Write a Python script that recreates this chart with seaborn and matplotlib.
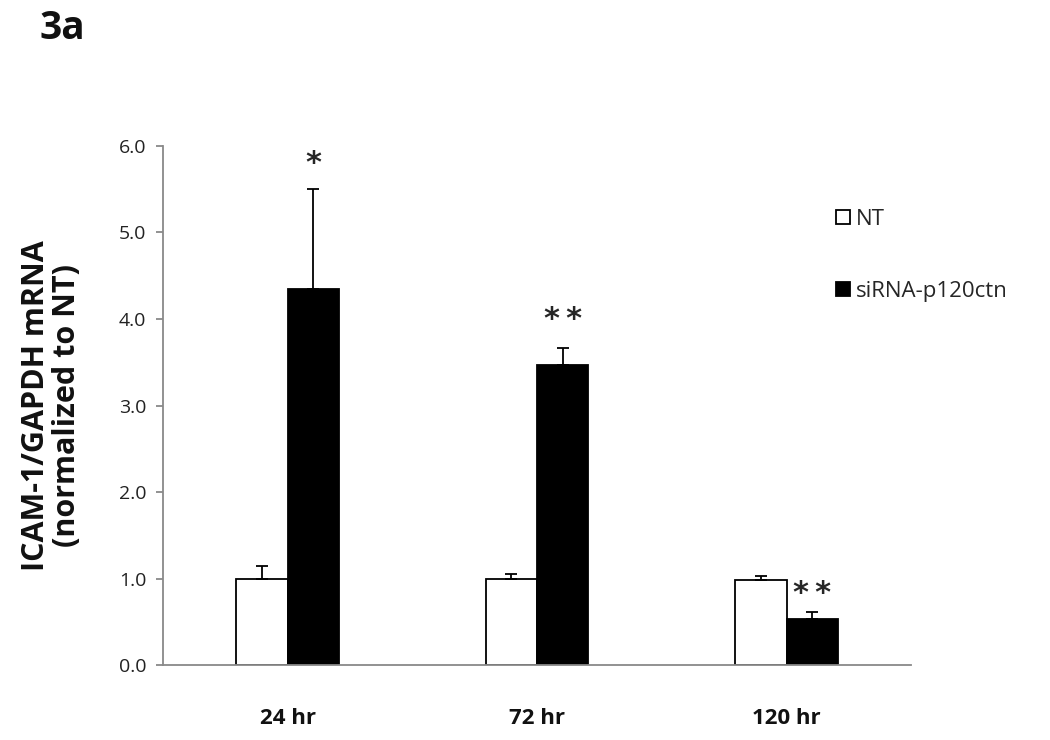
import numpy as np
import pandas as pd
import matplotlib
matplotlib.use("Agg")
import matplotlib.pyplot as plt
import seaborn as sns

sns.set_theme(style="white")
plt.rcParams["font.family"] = ["Open Sans", "DejaVu Sans"]

# ── Données ───────────────────────────────────────────────────────────────────
times     = ["24 hr", "72 hr", "120 hr"]
groups    = ["NT", "siRNA-p120ctn"]
nt_mean   = [1.00, 1.00, 0.98]
nt_err    = [0.15, 0.05, 0.05]
si_mean   = [4.35, 3.47, 0.53]
si_err    = [1.15, 0.19, 0.08]
stars     = ["*", "*\u2009*", "*\u2009*"]
star_y    = [5.80, 3.99, 0.83]

df = pd.DataFrame({
    "time":  times * 2,
    "group": [groups[0]] * 3 + [groups[1]] * 3,
    "value": nt_mean + si_mean,
})

GRAY = "#898989"

fig = plt.figure(figsize=(10.5, 7.4), dpi=100)
ax = fig.add_axes([0.155, 0.101, 0.713, 0.702])

sns.barplot(data=df, x="time", y="value", hue="group", order=times,
            hue_order=groups, palette=["white", "black"], errorbar=None,
            width=0.41, gap=0, edgecolor="black", linewidth=1.3,
            saturation=1, ax=ax)

# barres d'erreur (côté supérieur seulement)
for cont, means, errs in zip(ax.containers, [nt_mean, si_mean], [nt_err, si_err]):
    xs = [p.get_x() + p.get_width() / 2 for p in cont]
    ax.errorbar(xs, means, yerr=[np.zeros(len(errs)), errs], fmt="none",
                ecolor="black", elinewidth=1.3, capsize=4.5, capthick=1.3)

# astérisques au-dessus des barres siRNA
for p, s, y in zip(ax.containers[1], stars, star_y):
    ax.text(p.get_x() + p.get_width() / 2, y, s, ha="center", va="center",
            fontsize=22, fontweight="bold", family="DejaVu Sans")

ax.set_ylim(0, 6)
ax.set_xlim(-0.5, 2.5)
ax.set_yticks(np.arange(0, 6.1, 1.0))
ax.set_yticklabels([f"{v:.1f}" for v in np.arange(0, 6.1, 1.0)], fontsize=14,
                   color="#222222")
ax.set_xticklabels(times, fontsize=16, fontweight="bold", color="#111111")
ax.set_xlabel("")
ax.set_ylabel("ICAM-1/GAPDH mRNA\n(normalized to NT)", fontsize=22,
              fontweight="bold", labelpad=26, linespacing=1.05, color="#111111")

for side in ["top", "right"]:
    ax.spines[side].set_visible(False)
for side in ["left", "bottom"]:
    ax.spines[side].set_color(GRAY)
    ax.spines[side].set_linewidth(1.3)
ax.tick_params(axis="y", which="major", left=True, length=5, width=1.3,
               color=GRAY, pad=7)
ax.tick_params(axis="x", length=0, pad=31)

handles, labels = ax.get_legend_handles_labels()
ax.legend(handles, labels, loc="upper left", bbox_to_anchor=(0.777, 0.745),
          bbox_transform=fig.transFigure, frameon=False, fontsize=16,
          handlelength=0.62, handleheight=0.62, handletextpad=0.3,
          labelspacing=2.3)

fig.text(0.038, 0.962, "3a", fontsize=28, fontweight="bold", va="center",
         color="#111111")

fig.savefig("out.png", dpi=100)
